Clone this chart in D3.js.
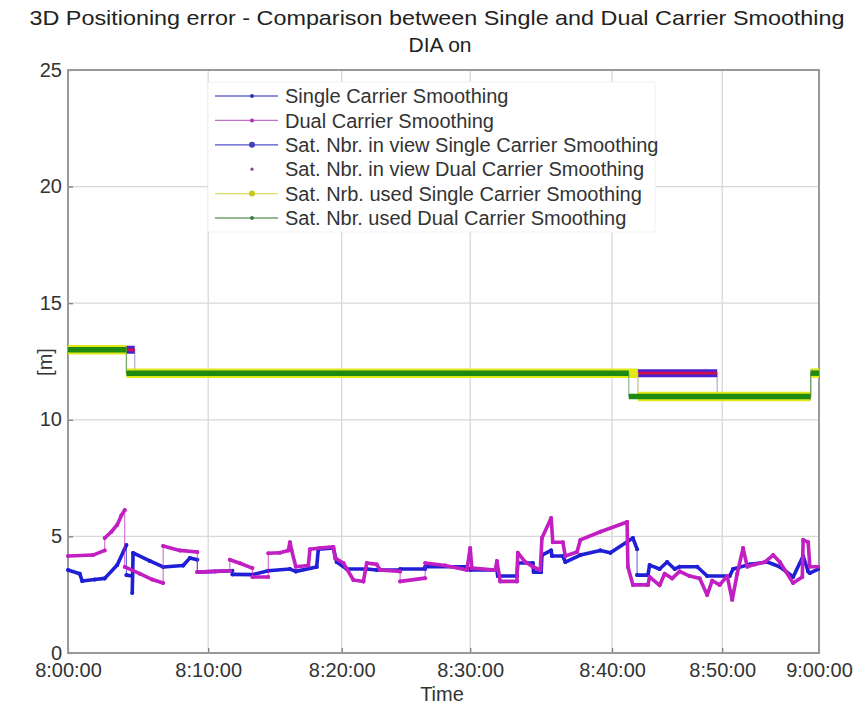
<!DOCTYPE html>
<html>
<head>
<meta charset="utf-8">
<script src="https://cdn.jsdelivr.net/npm/d3@7"></script>
<style>
  html, body { margin: 0; padding: 0; background: #fff; }
  svg { display: block; font-family: "Liberation Sans", Arial, sans-serif; }
</style>
</head>
<body>
<svg id="chart" width="857" height="704"></svg>
<script>
// Epoch index of each labelled time (the receiver log has gaps, so minutes are not evenly spaced)
const tickIndex  = [0, 168, 328, 482, 652, 784, 900];
const tickLabels = ["8:00:00", "8:10:00", "8:20:00", "8:30:00", "8:40:00", "8:50:00", "9:00:00"];
const yTicks = [0, 5, 10, 15, 20, 25];

// 3D positioning error [m] : [epoch index, value]
const singleErr = [
  [0,3.56],[14,3.4],[17,3.09],[32,3.15],[44,3.2],[59,3.77],[70,4.63],[70,3.34],[77,3.3],[77,2.57],
  [78,4.29],[98,3.95],[114,3.69],[138,3.75],[146,4.07],[155,4.0],[155,3.47],[197,3.53],[197,3.37],
  [221,3.36],[240,3.53],[266,3.6],[273,3.5],[298,3.69],[300,4.45],[318,4.5],[322,3.9],[334,3.6],
  [358,3.6],[370,3.56],[398,3.56],[398,3.6],[428,3.6],[428,3.7],[478,3.7],[482,3.56],[514,3.56],
  [515,3.3],[538,3.3],[539,3.86],[557,3.86],[558,3.47],[567,3.47],[568,4.2],[579,4.4],[580,4.16],
  [593,4.16],[596,3.9],[614,4.2],[638,4.4],[650,4.3],[677,4.93],[682,4.45],[682,3.34],[695,3.34],
  [697,3.77],[709,3.6],[718,3.9],[727,3.6],[733,3.7],[754,3.7],[766,3.3],[793,3.3],[797,3.6],
  [817,3.8],[838,3.9],[853,3.7],[869,3.26],[881,4.16],[887,3.5],[889,3.43],[899,3.6]
];
const dualErr = [
  [0,4.16],[30,4.2],[44,4.4],[44,4.93],[52,5.2],[59,5.5],[64,5.9],[68,6.13],[68,3.69],[86,3.4],
  [101,3.15],[114,3.0],[114,4.59],[134,4.4],[155,4.33],[155,3.47],[176,3.5],[194,3.53],[194,4.0],
  [206,3.85],[221,3.64],[221,3.26],[240,3.26],[240,4.28],[254,4.3],[264,4.4],[266,4.75],[268,4.4],
  [273,3.7],[288,3.75],[290,4.45],[302,4.5],[318,4.55],[320,4.07],[330,3.86],[342,3.13],[354,3.07],
  [358,3.86],[370,3.8],[374,3.56],[398,3.5],[398,3.07],[428,3.21],[428,3.86],[452,3.75],[478,3.56],
  [482,4.5],[484,3.64],[512,3.56],[514,3.94],[518,3.07],[538,3.07],[539,4.3],[548,3.9],[557,3.7],
  [566,3.56],[568,4.93],[579,5.79],[581,4.75],[593,4.75],[596,4.16],[610,4.33],[614,4.85],[638,5.2],
  [670,5.62],[671,3.69],[677,2.92],[695,2.92],[697,3.26],[709,2.9],[715,3.4],[724,3.2],[733,3.5],
  [745,3.3],[757,3.2],[766,2.49],[772,3.1],[781,2.92],[790,3.3],[796,2.28],[802,3.4],[809,4.5],
  [814,3.7],[823,3.8],[835,3.9],[845,4.2],[853,3.9],[869,3.0],[880,3.26],[881,4.85],[887,4.75],
  [889,3.7],[899,3.7]
];

// Satellite counts, as [epoch index where the count starts, count]; last entry closes the run
const inViewSingle = [[0,13],[80,12],[778,11],[890,12],[900,12]];
const inViewDual   = [[0,13],[80,12],[778,11],[890,12],[900,12]];
const usedSingle   = [[0,13],[70,12],[683,11],[890,12],[900,12]];
const usedDual     = [[0,13],[70,12],[672,11],[890,12],[900,12]];

const seriesNames = [
  "Single Carrier Smoothing",
  "Dual Carrier Smoothing",
  "Sat. Nbr. in view Single Carrier Smoothing",
  "Sat. Nbr. in view Dual Carrier Smoothing",
  "Sat. Nrb. used Single Carrier Smoothing",
  "Sat. Nbr. used Dual Carrier Smoothing"
];

const svg = d3.select("#chart");
const M = { left: 68, right: 819, top: 70, bottom: 653 };

const x = d3.scaleLinear().domain([0, 900]).range([M.left, M.right]);
const y = d3.scaleLinear().domain([0, 25]).range([M.bottom, M.top]);

const textColor = "#333";

// grid
const grid = svg.append("g");
grid.selectAll("line.gx").data(tickIndex.slice(1, -1)).join("line")
  .attr("x1", d => x(d)).attr("x2", d => x(d))
  .attr("y1", M.top).attr("y2", M.bottom)
  .attr("stroke", "#d8d8d8").attr("stroke-width", 1.3);
grid.selectAll("line.gy").data(yTicks.slice(1, -1)).join("line")
  .attr("x1", M.left).attr("x2", M.right)
  .attr("y1", d => y(d)).attr("y2", d => y(d))
  .attr("stroke", "#d8d8d8").attr("stroke-width", 1.3);

// axes
const xAxis = d3.axisBottom(x).tickValues(tickIndex)
  .tickFormat((d, i) => tickLabels[i]).tickSize(-5).tickPadding(10);
const gx = svg.append("g").attr("transform", `translate(0,${M.bottom})`).call(xAxis);
const yAxis = d3.axisLeft(y).tickValues(yTicks).tickSize(-5).tickPadding(6);
const gy = svg.append("g").attr("transform", `translate(${M.left},0)`).call(yAxis);
[gx, gy].forEach(g => {
  g.select(".domain").remove();
  g.selectAll(".tick line").attr("stroke", "#777").attr("stroke-width", 1.2);
  g.selectAll(".tick text").attr("fill", textColor).style("font-size", "20px");
});
gy.selectAll(".tick text").attr("dy", "0.3em");

// frame
svg.append("rect")
  .attr("x", M.left).attr("y", M.top)
  .attr("width", M.right - M.left).attr("height", M.bottom - M.top)
  .attr("fill", "none").attr("stroke", "#999").attr("stroke-width", 2);

const plot = svg.append("g");
const line = d3.line().x(d => x(d[0])).y(d => y(d[1]));

// error curve: thin connecting line, heavy where the dense markers run along time, dots on samples
function drawError(data, color) {
  const g = plot.append("g");
  g.append("path").attr("d", line(data))
    .attr("fill", "none").attr("stroke", color).attr("stroke-width", 1).attr("stroke-opacity", 0.75);
  const segs = d3.pairs(data).filter(([a, b]) => a[0] !== b[0]);
  g.selectAll("path.seg").data(segs).join("path")
    .attr("d", d => line(d))
    .attr("fill", "none").attr("stroke", color).attr("stroke-width", 3.6)
    .attr("stroke-linecap", "round");
  g.selectAll("circle").data(data).join("circle")
    .attr("cx", d => x(d[0])).attr("cy", d => y(d[1])).attr("r", 2)
    .attr("fill", color);
}

// satellite count: step line with heavy marker band along each constant run
function drawSteps(data, color, bandWidth, withLine, lineColor) {
  const g = plot.append("g");
  if (withLine) {
    g.append("path")
      .attr("d", d3.line().curve(d3.curveStepAfter).x(d => x(d[0])).y(d => y(d[1]))(data))
      .attr("fill", "none").attr("stroke", lineColor || color).attr("stroke-width", 1.2)
      .attr("stroke-opacity", 0.7);
  }
  const runs = d3.pairs(data).map(([a, b]) => [[a[0], a[1]], [b[0], a[1]]]);
  g.selectAll("path.run").data(runs).join("path")
    .attr("d", d => line(d))
    .attr("fill", "none").attr("stroke", color).attr("stroke-width", bandWidth)
    .attr("stroke-linecap", "butt");
}

const C = {
  single: "#1f1fd6",
  dual: "#c21fc2",
  viewSingle: "#4a22d0",
  viewDual: "#d0104e",
  usedSingle: "#e2e816",
  usedDual: "#1f8a12"
};

drawError(singleErr, C.single);
drawError(dualErr, C.dual);
drawSteps(inViewSingle, C.viewSingle, 8, true, "#8a8ac8");
drawSteps(inViewDual, C.viewDual, 2.6, false);
drawSteps(usedSingle, C.usedSingle, 9.5, true, "#a0a060");
drawSteps(usedDual, C.usedDual, 5.5, true, "#60a060");

// legend
const lg = svg.append("g");
lg.append("rect").attr("x", 208).attr("y", 82).attr("width", 447).attr("height", 150)
  .attr("fill", "#fff").attr("stroke", "#f2f2f2");
const legendStyle = [
  { color: "#6a6ad0", marker: "#3030c0", r: 2, line: true },
  { color: "#c070c8", marker: "#b030b0", r: 2, line: true },
  { color: "#5050c8", marker: "#4040c0", r: 3, line: true },
  { color: "#9060a0", marker: "#7a4a9a", r: 1.6, line: false },
  { color: "#d8dc60", marker: "#c8c820", r: 3, line: true },
  { color: "#70a070", marker: "#407a40", r: 2, line: true }
];
const legendItems = seriesNames.map((name, i) => ({ name, i, ...legendStyle[i] }));
const rowY = d3.scalePoint().domain(d3.range(seriesNames.length)).range([96, 218]);
const items = lg.selectAll("g.item").data(legendItems).join("g")
  .attr("transform", d => `translate(0,${rowY(d.i)})`);
items.filter(d => d.line).append("line")
  .attr("x1", 215).attr("x2", 278).attr("y1", 0).attr("y2", 0)
  .attr("stroke", d => d.color).attr("stroke-width", 1.3);
items.append("circle").attr("cx", 252).attr("cy", 0)
  .attr("r", d => d.r)
  .attr("fill", d => d.marker);
items.append("text").attr("x", 285).attr("y", 0).attr("dy", "0.36em")
  .attr("fill", textColor).style("font-size", "20px").text(d => d.name);

// titles
svg.append("text").attr("x", 437).attr("y", 25).attr("text-anchor", "middle")
  .attr("fill", "#222").style("font-size", "21px")
  .attr("textLength", 815).attr("lengthAdjust", "spacingAndGlyphs")
  .text("3D Positioning error - Comparison between Single and Dual Carrier Smoothing");
svg.append("text").attr("x", 440).attr("y", 52).attr("text-anchor", "middle")
  .attr("fill", "#222").style("font-size", "21px").text("DIA on");

svg.append("text").attr("x", 442).attr("y", 701).attr("text-anchor", "middle")
  .attr("fill", textColor).style("font-size", "20px").text("Time");
svg.append("text").attr("transform", "translate(52,362) rotate(-90)")
  .attr("text-anchor", "middle").attr("fill", textColor).style("font-size", "20px").text("[m]");
</script>
</body>
</html>
